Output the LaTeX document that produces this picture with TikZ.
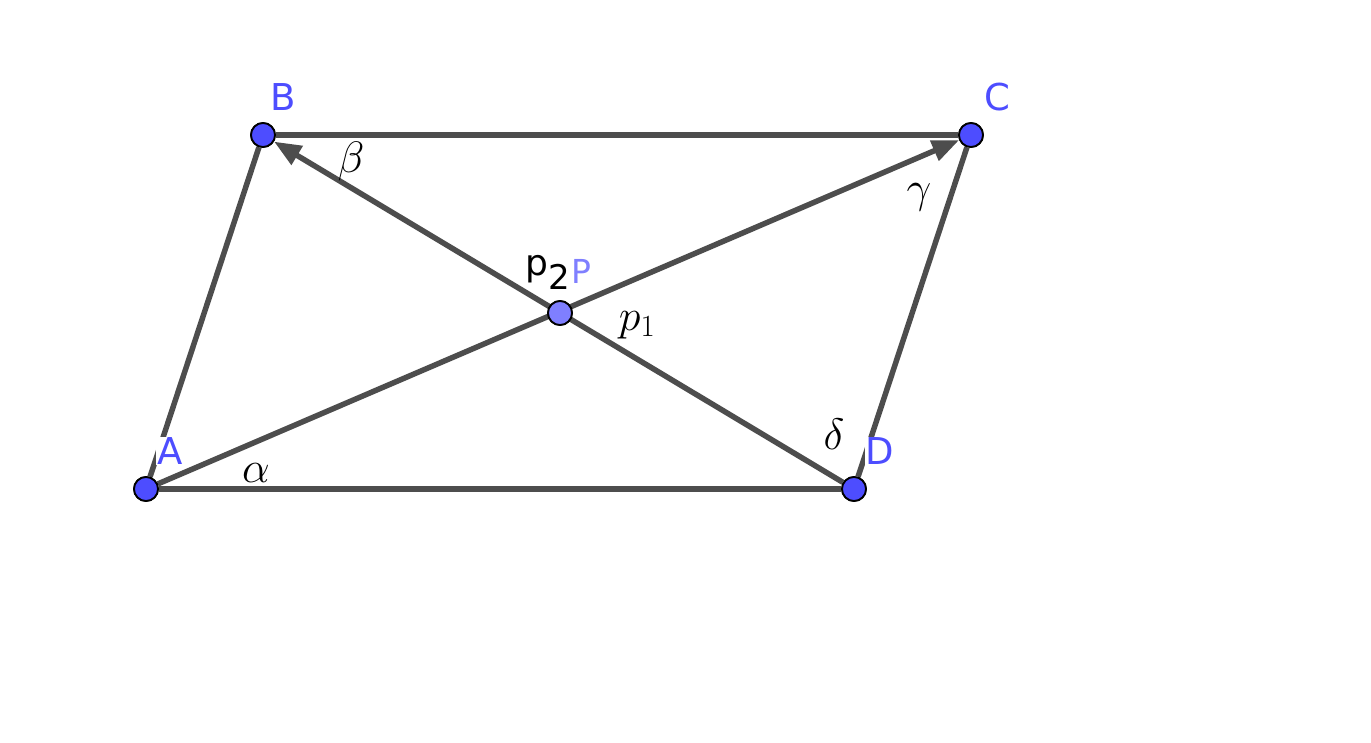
\RequirePackage{fix-cm}
\documentclass[tikz,border=0pt]{standalone}
\usepackage{fontspec}
\newfontfamily\dv{DejaVu Sans}
\usetikzlibrary{arrows.meta,backgrounds}
\definecolor{segc}{HTML}{4D4D4D}
\definecolor{ptblue}{HTML}{4D4DFF}
\definecolor{ptlight}{HTML}{7F7FFF}
\tikzset{
 pt/.style={circle,draw=black,line width=1.8pt,fill=ptblue,minimum size=24pt,inner sep=0pt},
 ptl/.style={pt,fill=ptlight},
 segline/.style={draw=segc,line width=5.5pt},
 vec/.style={segline,-{Triangle[length=27pt,width=21pt]}},
 ptlab/.style={text=ptblue,font=\dv\fontsize{37}{44}\selectfont,fill=white,inner sep=1pt},
 anglab/.style={font=\fontsize{44}{50}\selectfont,inner sep=0pt},
 sanslab/.style={font=\dv\fontsize{36}{42}\selectfont,inner sep=0pt},
}
\begin{document}
\begin{tikzpicture}[x=1pt,y=-1pt]
\useasboundingbox (0,0) rectangle (1371,743);
\node[pt] (A) at (146,489) {};
\node[pt] (B) at (263,135) {};
\node[pt] (C) at (971,135) {};
\node[pt] (D) at (854,489) {};
\node[ptl] (P) at (560,313) {};
\begin{scope}[on background layer]
\fill[white] (0,0) rectangle (1371,743);
\draw[segline] (A) -- (B);
\draw[segline] (B) -- (C);
\draw[segline] (C) -- (D);
\draw[segline] (D) -- (A);
\draw[vec] (A) -- (C);
\draw[vec] (D) -- (B);
\end{scope}
% labels
\node[ptlab] (lA) at (170,451) {A};
\node[ptlab] (lB) at (283,97) {B};
\node[ptlab] (lC) at (997,97) {C};
\node[ptlab] (lD) at (880,451) {D};
\node[ptlab,text=ptlight,font=\dv\fontsize{33}{38}\selectfont] (lP) at (581,271) {P};
\node[sanslab] (lp2a) at (537,269) {p};
\node[sanslab,font=\dv\fontsize{34}{40}\selectfont] (lp2b) at (559,277) {2};
\node[anglab] (lp1) at (637,325) {$p_1$};
\node[anglab] (lbeta) at (351,162) {$\beta$};
\node[anglab] (lgamma) at (919,197) {$\gamma$};
\node[anglab] (lalpha) at (256,473) {$\alpha$};
\node[anglab] (ldelta) at (834,434) {$\delta$};
% redraw points on top
\node[pt] at (A) {};
\node[pt] at (B) {};
\node[pt] at (C) {};
\node[pt] at (D) {};
\node[ptl] at (P) {};
\end{tikzpicture}
\end{document}
